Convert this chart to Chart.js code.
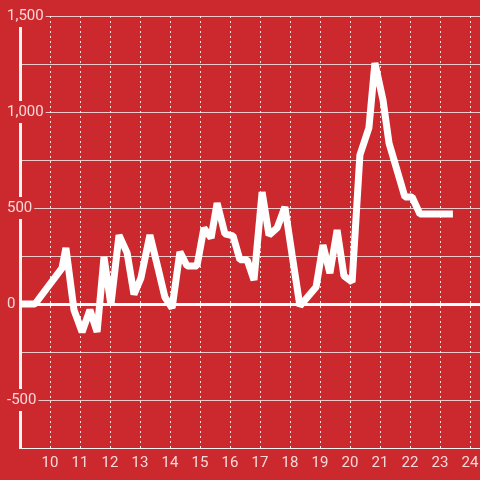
<!DOCTYPE html>
<html>
<head>
<meta charset="utf-8">
<script src="https://cdn.jsdelivr.net/npm/chart.js@4.4.1/dist/chart.umd.min.js"></script>
<style>
  html, body { margin: 0; padding: 0; background: #cc292e; }
  #wrap { width: 480px; height: 480px; }
</style>
</head>
<body>
<div id="wrap"><canvas id="lineChart"></canvas></div>
<script>
// hour of day (x) and value (y)
let hours = [9.0, 9.5, 10.4, 10.53, 10.8, 11.07, 11.33, 11.57, 11.8, 12.03,
    12.3, 12.57, 12.8, 13.03, 13.33, 13.6, 13.83, 14.07, 14.33, 14.57,
    14.9, 15.13, 15.37, 15.57, 15.83, 16.1, 16.33, 16.57, 16.8, 17.07,
    17.3, 17.57, 17.83, 18.07, 18.33, 18.87, 19.1, 19.33, 19.57, 19.8,
    20.07, 20.33, 20.63, 20.83, 21.1, 21.3, 21.83, 22.07, 22.33, 23.43];
let values = [0, 0, 187, 292, -31, -146, -31, -146, 245, -5,
    359, 266, 50, 135, 359, 187, 36, -21, 271, 198,
    198, 395, 344, 526, 365, 355, 230, 230, 125, 583,
    359, 396, 505, 255, -10, 89, 307, 160, 385, 146,
    115, 776, 917, 1255, 1063, 838, 557, 557, 469, 469];
let hourTicks = [10, 11, 12, 13, 14, 15, 16, 17, 18, 19, 20, 21, 22, 23, 24];
let valueTicks = [-750, -500, -250, 0, 250, 500, 750, 1000, 1250, 1500];

const RED = '#cc292e';
const TEXT = 'rgba(255, 255, 255, 0.82)';

function manageLineChart() {
    let points = hours.map(function (h, i) {
        return {x: h, y: values[i]};
    });
    let ctxL = document.getElementById("lineChart").getContext('2d');
    new Chart(ctxL, {
        type: 'line',
        data: {
            datasets: [{
                data: points,
                borderColor: '#ffffff',
                borderWidth: 7,
                borderJoinStyle: 'bevel',
                pointRadius: 0,
                tension: 0,
                fill: false
            }]
        },
        options: {
            responsive: true,
            maintainAspectRatio: false,
            animation: false,
            layout: {padding: {top: 16, right: 0, left: 0, bottom: 0}},
            plugins: {legend: {display: false}, tooltip: {enabled: false}},
            scales: {
                x: {
                    type: 'linear',
                    min: 9,
                    max: 24.333,
                    afterBuildTicks: function (scale) {
                        scale.ticks = hourTicks.map(function (v) { return {value: v}; });
                    },
                    afterFit: function (scale) {
                        scale.height = 32;
                        scale.paddingLeft = 0;
                        scale.paddingRight = 0;
                    },
                    grid: {
                        color: 'rgba(255, 255, 255, 0.85)',
                        lineWidth: 1,
                        drawTicks: false
                    },
                    border: {
                        display: true,
                        color: 'rgba(255, 255, 255, 0.8)',
                        width: 1,
                        dash: [2, 3]
                    },
                    ticks: {
                        color: TEXT,
                        font: {family: 'Roboto', size: 15},
                        padding: 6,
                        maxRotation: 0,
                        autoSkip: false
                    }
                },
                y: {
                    min: -750,
                    max: 1500,
                    afterBuildTicks: function (scale) {
                        scale.ticks = valueTicks.map(function (v) { return {value: v}; });
                    },
                    afterFit: function (scale) {
                        scale.width = 20;
                        scale.paddingTop = 0;
                        scale.paddingBottom = 0;
                    },
                    grid: {
                        color: function (c) {
                            return c.tick && c.tick.value === 0 ? '#ffffff' : 'rgba(255, 255, 255, 0.75)';
                        },
                        lineWidth: function (c) {
                            return c.tick && c.tick.value === 0 ? 3 : 1;
                        },
                        drawTicks: false
                    },
                    border: {
                        display: true,
                        color: '#f4f4f4',
                        width: 3
                    },
                    ticks: {
                        mirror: true,
                        padding: -13,
                        color: TEXT,
                        font: {family: 'Roboto', size: 15},
                        callback: function (v) {
                            return v % 500 === 0 ? v.toLocaleString('en-US') : '';
                        },
                        showLabelBackdrop: function (c) {
                            return !!c.tick && c.tick.value % 500 === 0;
                        },
                        backdropColor: RED,
                        backdropPadding: 2
                    }
                }
            }
        }
    });
}

manageLineChart();
</script>
</body>
</html>
